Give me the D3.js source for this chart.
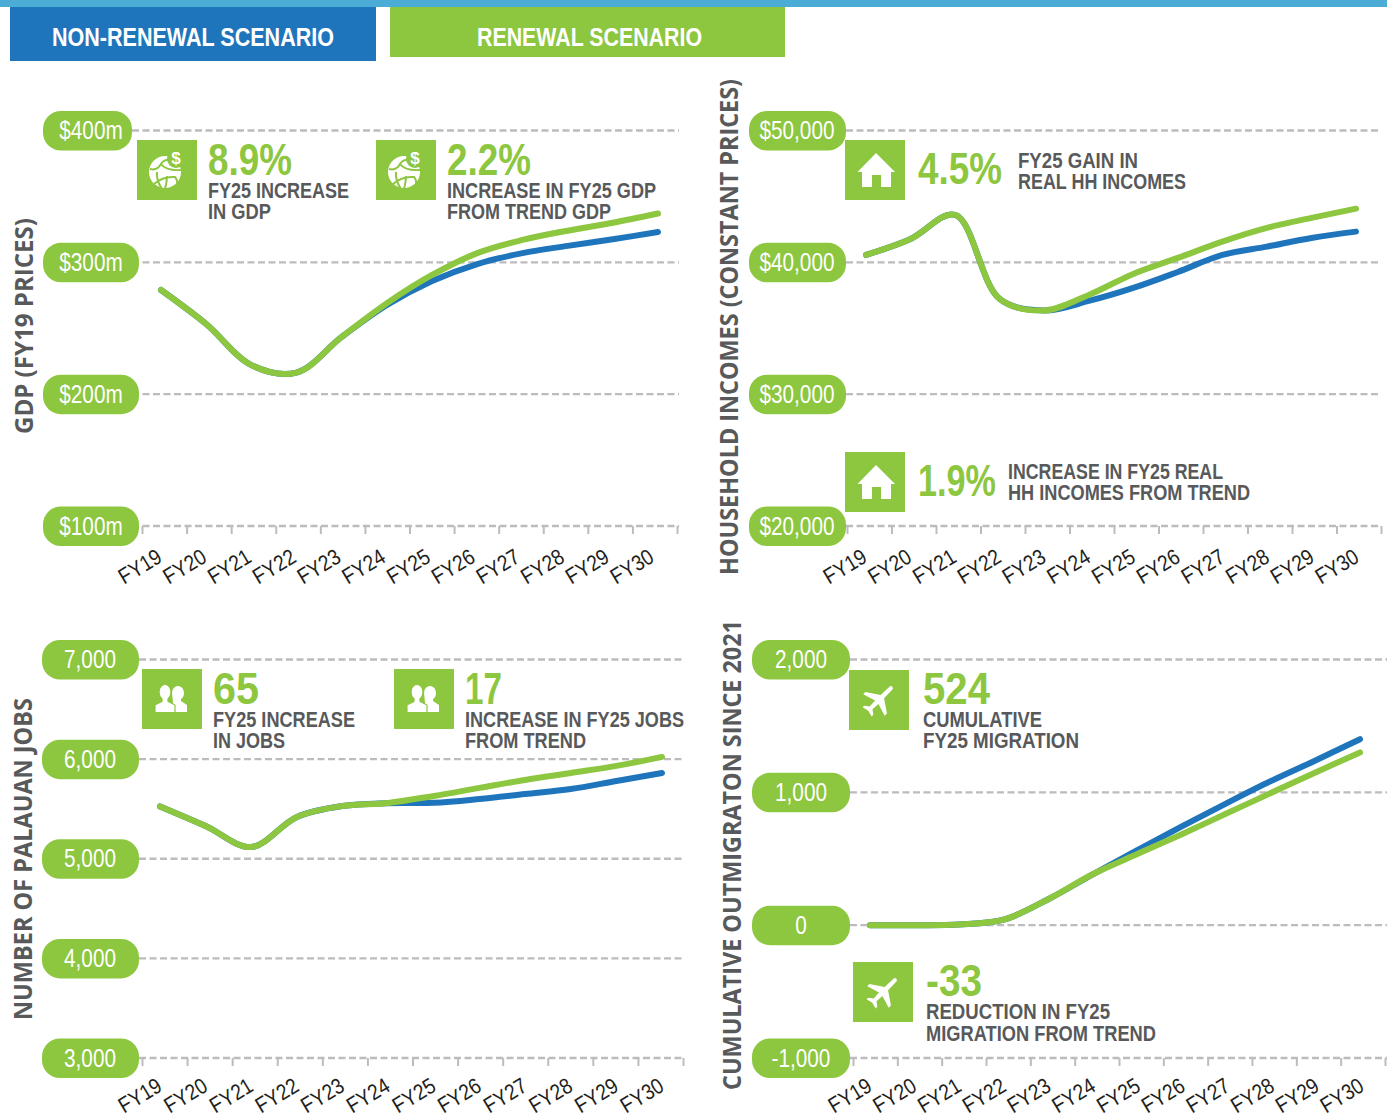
<!DOCTYPE html>
<html><head><meta charset="utf-8">
<script src="https://cdnjs.cloudflare.com/ajax/libs/d3/7.8.5/d3.min.js"></script>
<style>html,body{margin:0;padding:0;background:#fff}svg{display:block}</style></head>
<body><svg id="c" width="1387" height="1116"></svg>
<script>
const categories=["FY19","FY20","FY21","FY22","FY23","FY24","FY25","FY26","FY27","FY28","FY29","FY30"];
const gdpNon=[279,253.2,222,216.4,243.4,267.6,285.8,298.7,307,312.5,317.5,323];
const gdpRen=[279,253.2,222,216.4,243.4,269,290.4,307,317,324,330,337];
const incomeNon=[40560,41775,43595,37223,36350,37070,38060,39270,40561,41190,41850,42328];
const incomeRen=[40560,41775,43595,37223,36350,37526,39120,40333,41570,42610,43370,44070];
const jobsNon=[5525,5329,5118,5420,5530,5558,5562,5600,5650,5700,5781,5861];
const jobsRen=[5525,5329,5118,5420,5530,5560,5630,5711,5791,5861,5932,6022];
const migNon=[0,0,5,41,195,383,565,744,917,1085,1240,1400];
const migRen=[0,0,5,41,195,383,535,685,840,995,1150,1300];
const gdpTicks=[100,200,300,400],incomeTicks=[20000,30000,40000,50000],jobsTicks=[3000,4000,5000,6000,7000],migTicks=[-1000,0,1000,2000];
const GREEN="#8dc63f",BLUE="#1f75bc",GREY="#58595b",DASH="#bcbcbc";
const sans="'Liberation Sans',sans-serif";
const svg=d3.select("#c");

function fit(g,str,x,y,w,size,opt={}){
  return g.append("text").attr("x",x).attr("y",y).text(str)
   .attr("font-family",opt.font||sans).attr("font-weight",opt.weight||700)
   .attr("font-size",size).attr("fill",opt.fill||GREY)
   .attr("textLength",w).attr("lengthAdjust","spacingAndGlyphs");
}
svg.append("rect").attr("width",1387).attr("height",7).attr("fill","#4bacd6");
svg.append("rect").attr("x",10).attr("y",7).attr("width",366).attr("height",54).attr("fill",BLUE);
svg.append("rect").attr("x",390).attr("y",7).attr("width",395).attr("height",50).attr("fill",GREEN);
fit(svg,"NON-RENEWAL SCENARIO",52,46,282,26,{fill:"#fff"});
fit(svg,"RENEWAL SCENARIO",477,46,225,26,{fill:"#fff"});

const icons={
 house(g){g.append("path").attr("fill","#fff").attr("d","M31 13 L50 32 L46 32 L46 47 L36 47 L36 35 L27 35 L27 47 L17 47 L17 32 L12.5 32 Z");},
 globe(g){
  g.append("circle").attr("cx",28).attr("cy",32).attr("r",16).attr("fill","#fff");
  g.append("circle").attr("cx",39).attr("cy",19).attr("r",9).attr("fill",GREEN);
  g.append("path").attr("fill","none").attr("stroke",GREEN).attr("stroke-width",2)
   .attr("d","M13 29 Q20 31 24 24 Q27 19 34 20 M24 24 Q29 31 44 30 M20 32 Q19 40 25 49 M17 44 Q26 36 38 37 Q41 40 40 46 M30 36 Q30 42 28 49");
  g.append("text").attr("x",39).attr("y",24).attr("text-anchor","middle").text("$").attr("fill","#fff").attr("font-family",sans).attr("font-weight",700).attr("font-size",17);
 },
 people(g){
  g.append("path").attr("fill","#fff").attr("d","M30 24 a6 7 0 1 1 12 0 a6 7 0 0 1 -3 6 v2 l6 4 v7 H32 Z");
  g.append("path").attr("fill","#fff").attr("stroke",GREEN).attr("stroke-width",1.2)
   .attr("d","M17 23 a6 7.5 0 1 1 12 0 q0 4 -3 7 v2.5 l7 3.5 v7.5 H13 V36 l7 -3.5 V30 q-3 -3 -3 -7 Z");
 },
 plane(g){g.append("path").attr("fill","#fff").attr("transform","translate(30 30) rotate(45) scale(.8)")
   .attr("d","M-2.5 -22 Q0 -25 2.5 -22 L3 -6 L19 5 L19 9 L3 4 L2.5 14 L8 18 L8 21 L0 19 L-8 21 L-8 18 L-2.5 14 L-3 4 L-19 9 L-19 5 L-3 -6 Z");}
};
function callout(c){
  const g=svg.append("g");
  g.append("rect").attr("x",c.ix).attr("y",c.iy).attr("width",60).attr("height",60).attr("fill",GREEN);
  icons[c.icon](g.append("g").attr("transform",`translate(${c.ix},${c.iy})`));
  fit(g,c.num,c.nx,c.ny,c.nw,c.ns||44,{fill:GREEN});
  c.lines.forEach(l=>fit(g,l[0],c.tx,l[1],l[2],22));
}
function panel(p){
  const g=svg.append("g");
  const y=d3.scaleLinear().domain([p.ticks[0],p.ticks[p.ticks.length-1]]).range([p.bottom,p.top]);
  const x=d3.scalePoint().domain(categories).range(p.lineX);
  const edge=d3.scaleLinear().domain([0,12]).range(p.axisX);
  const lab=d3.scalePoint().domain(categories).range(p.labelX);
  g.selectAll("line.grid").data(p.ticks).join("line").attr("class","grid")
   .attr("x1",p.gridX[0]).attr("x2",p.gridX[1]).attr("y1",d=>y(d)).attr("y2",d=>y(d))
   .attr("stroke",DASH).attr("stroke-width",2.4).attr("stroke-dasharray","7 3.5");
  const ax=g.append("g").attr("transform",`translate(0,${p.bottom})`)
   .call(d3.axisBottom(edge).tickValues(d3.range(13)).tickSize(8).tickFormat(""));
  ax.select(".domain").remove();
  ax.selectAll("line").attr("stroke",DASH).attr("stroke-width",2);
  g.append("g").attr("transform",`translate(0,${p.bottom})`)
   .call(d3.axisBottom(lab).tickSize(0).tickPadding(0))
   .call(s=>s.select(".domain").remove())
   .selectAll("text").attr("y",null).attr("dy",null)
   .attr("text-anchor","end").attr("font-family",sans).attr("font-size",22).attr("fill","#231f20")
   .attr("textLength",46).attr("lengthAdjust","spacingAndGlyphs")
   .attr("transform",`translate(0,${p.labelDy}) rotate(-31)`);
  g.selectAll("g.pill").data(p.ticks).join("g").attr("class","pill").each(function(d){
    const s=d3.select(this),w=p.pillW(d);
    s.append("rect").attr("x",p.pillX).attr("y",y(d)-19.5).attr("width",w).attr("height",39.5).attr("rx",18).attr("fill",GREEN);
    const t=s.append("text").attr("x",p.pillX+p.pillTX).attr("y",y(d)+8.5).attr("text-anchor","middle")
     .attr("font-family",sans).attr("font-size",25).attr("fill","#fff").text(p.fmt(d));
    t.attr("textLength",t.node().getComputedTextLength()*.83).attr("lengthAdjust","spacingAndGlyphs");
  });
  const line=d3.line().x((d,i)=>x(categories[i])).y(d=>y(d)).curve(d3.curveCatmullRom.alpha(.5));
  [[p.non,BLUE],[p.ren,GREEN]].forEach(([v,col])=>g.append("path").datum(v).attr("d",line)
    .attr("fill","none").attr("stroke",col).attr("stroke-width",6).attr("stroke-linecap","round"));
  g.append("text").attr("transform",`translate(${p.titleX},${p.titleY}) rotate(-90)`).text(p.title)
   .attr("font-family","'Open Sans',sans-serif").attr("font-weight",700).attr("font-size",25).attr("fill",GREY)
   .attr("textLength",p.titleW).attr("lengthAdjust","spacingAndGlyphs");
  p.callouts.forEach(callout);
}
const comma=d=>d3.format(",")(d).replace("\u2212","-");
panel({ticks:gdpTicks,non:gdpNon,ren:gdpRen,top:130.5,bottom:526,lineX:[161,658],axisX:[142,677],gridX:[132,679],labelX:[163,655],labelDy:35,
 pillX:43,pillTX:48,pillW:d=>d==400?89:96,fmt:d=>"$"+d+"m",title:"GDP (FY19 PRICES)",titleX:33,titleY:434,titleW:216,
 callouts:[
 {icon:"globe",ix:137,iy:140,num:"8.9%",nx:208,ny:175,nw:84,tx:208,lines:[["FY25 INCREASE",198,141],["IN GDP",219,63]]},
 {icon:"globe",ix:376,iy:140,num:"2.2%",nx:447,ny:175,nw:84,tx:447,lines:[["INCREASE IN FY25 GDP",198,209],["FROM TREND GDP",219,164]]}]});
panel({ticks:incomeTicks,non:incomeNon,ren:incomeRen,top:130.5,bottom:526,lineX:[866,1356],axisX:[847,1381],gridX:[846,1381],labelX:[868,1360],labelDy:35,
 pillX:749,pillTX:48,pillW:()=>97,fmt:d=>"$"+comma(d),title:"HOUSEHOLD INCOMES (CONSTANT PRICES)",titleX:738,titleY:575,titleW:496,
 callouts:[
 {icon:"house",ix:845,iy:140,num:"4.5%",nx:918,ny:184,nw:84,tx:1018,lines:[["FY25 GAIN IN",168,120],["REAL HH INCOMES",189,168]]},
 {icon:"house",ix:845,iy:452,num:"1.9%",nx:918,ny:496,nw:78,tx:1008,lines:[["INCREASE IN FY25 REAL",479,215],["HH INCOMES FROM TREND",500,242]]}]});
panel({ticks:jobsTicks,non:jobsNon,ren:jobsRen,top:659.5,bottom:1058,lineX:[160,662],axisX:[142,683],gridX:[139,684],labelX:[163,665],labelDy:32,
 pillX:42,pillTX:48,pillW:()=>97,fmt:comma,title:"NUMBER OF PALAUAN JOBS",titleX:32,titleY:1020,titleW:322,
 callouts:[
 {icon:"people",ix:142,iy:669,num:"65",nx:213,ny:704,nw:46,tx:213,lines:[["FY25 INCREASE",727,142],["IN JOBS",748,72]]},
 {icon:"people",ix:394,iy:669,num:"17",nx:465,ny:704,nw:37,tx:465,lines:[["INCREASE IN FY25 JOBS",727,219],["FROM TREND",748,121]]}]});
panel({ticks:migTicks,non:migNon,ren:migRen,top:659.5,bottom:1058,lineX:[870,1360],axisX:[853,1385],gridX:[850,1387],labelX:[873,1365],labelDy:32,
 pillX:752,pillTX:49,pillW:()=>98,fmt:comma,title:"CUMULATIVE OUTMIGRATON SINCE 2021",titleX:741,titleY:1090,titleW:470,
 callouts:[
 {icon:"plane",ix:849,iy:670,num:"524",nx:923,ny:704,nw:67,tx:923,lines:[["CUMULATIVE",727,119],["FY25 MIGRATION",748,156]]},
 {icon:"plane",ix:853,iy:962,num:"-33",nx:926,ny:996,nw:56,tx:926,lines:[["REDUCTION IN FY25",1019,184],["MIGRATION FROM TREND",1041,230]]}]});
</script></body></html>
